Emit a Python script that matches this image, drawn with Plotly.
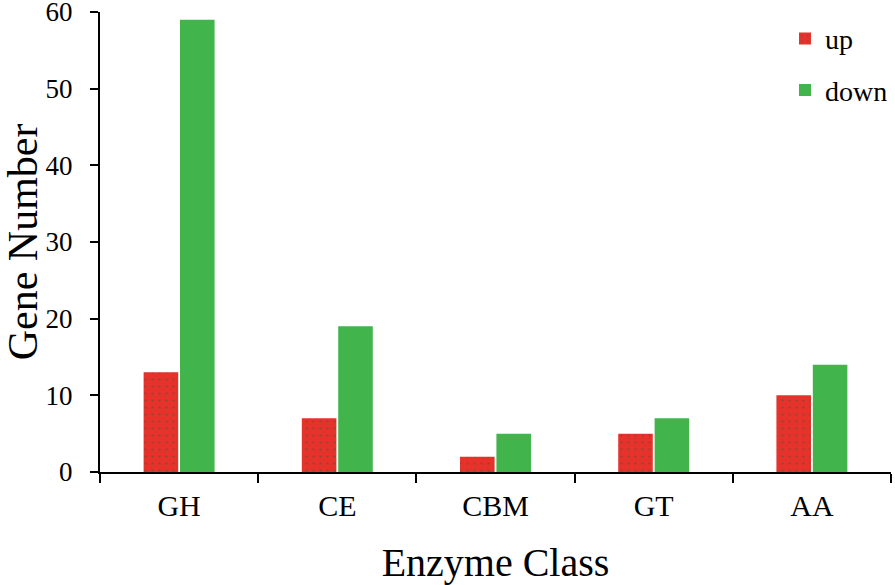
import plotly.graph_objects as go

categories = ["GH", "CE", "CBM", "GT", "AA"]
up_counts = [13, 7, 2, 5, 10]
down_counts = [59, 19, 5, 7, 14]
y_ticks = [0, 10, 20, 30, 40, 50, 60]

FONT = "Liberation Serif, Times New Roman, serif"

fig = go.Figure()

fig.add_trace(go.Bar(
    x=categories, y=up_counts, name="up", legendgroup="up",
    marker=dict(
        color="#e5322a",
        line=dict(width=0),
        pattern=dict(shape=".", fgcolor="#3a5a40", size=7, solidity=0.08),
    ),
))
fig.add_trace(go.Bar(
    x=categories, y=down_counts, name="down", legendgroup="down",
    marker=dict(color="#41b54c", line=dict(width=0)),
))

fig.update_layout(
    width=895,
    height=585,
    margin=dict(l=100, r=2, t=12, b=113),
    paper_bgcolor="white",
    plot_bgcolor="white",
    font=dict(family=FONT, color="black", size=28),
    barmode="group",
    bargap=0.54,
    bargroupgap=0.05,
    legend=dict(
        x=0.866, y=0.996, xanchor="left", yanchor="top",
        font=dict(size=28, family=FONT),
        bgcolor="rgba(0,0,0,0)",
        tracegroupgap=12,
        itemwidth=30,
    ),
    # y title as a rotated annotation so it sits clear of the tick labels
    annotations=[dict(
        text="Gene Number", textangle=-90,
        xref="paper", yref="paper", x=-0.097, y=0.5,
        xanchor="center", yanchor="middle", showarrow=False,
        font=dict(size=42, family=FONT, color="black"),
    )],
)

fig.update_xaxes(
    type="category",
    automargin=False,
    showline=True, linecolor="black", linewidth=2,
    ticks="outside", ticklen=9, tickwidth=2, tickcolor="black",
    tickson="boundaries",
    ticklabelstandoff=6,
    showgrid=False,
    tickfont=dict(size=30, family=FONT),
    title=dict(text="Enzyme Class", font=dict(size=40, family=FONT), standoff=29),
)
fig.update_yaxes(
    range=[0, 60],
    tickvals=y_ticks,
    automargin=False,
    ticklabeloverflow="allow",
    showline=True, linecolor="black", linewidth=2,
    ticks="outside", ticklen=8, tickwidth=2, tickcolor="black",
    ticklabelstandoff=12,
    showgrid=False, zeroline=False,
    tickfont=dict(size=27, family=FONT),
)

# drop the default 8px body margin so the figure fills the window
fig.write_html(
    "out.html",
    config={"displayModeBar": False},
    post_script="document.body.style.margin='0';",
)
